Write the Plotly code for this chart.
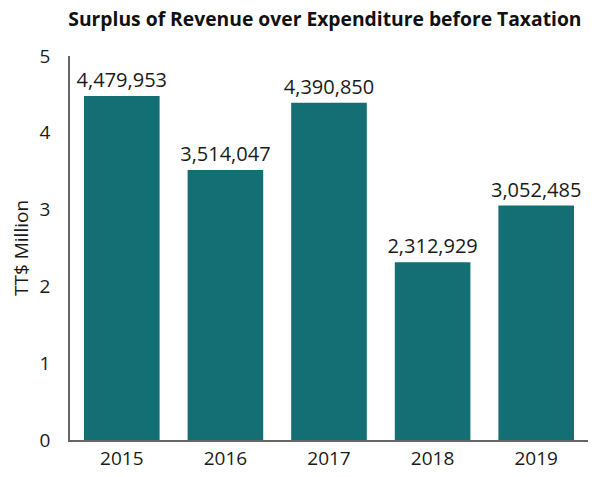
import plotly.graph_objects as go

years = ["2015", "2016", "2017", "2018", "2019"]
surplus_tt = [4479953, 3514047, 4390850, 2312929, 3052485]
y_ticks = [0, 1, 2, 3, 4, 5]

y_million = [v / 1e6 for v in surplus_tt]
labels = [f"{v:,}" for v in surplus_tt]

FONT = "Open Sans, Noto Sans, sans-serif"

fig = go.Figure(go.Bar(
    x=years, y=y_million, text=labels, textposition="outside",
    constraintext="none",
    textfont=dict(size=20, color="#1a1a1a", family=FONT),
    marker=dict(color="#136f73", line=dict(width=0)),
    cliponaxis=False, hoverinfo="skip",
))

fig.update_layout(
    width=588, height=469,
    margin=dict(l=62, r=8, t=48, b=37, autoexpand=False),
    paper_bgcolor="white", plot_bgcolor="white",
    bargap=0.27, showlegend=False,
    font=dict(family=FONT, color="#1a1a1a", size=19),
    title=dict(text="<b>Surplus of Revenue over Expenditure before Taxation</b>",
               x=0.539, xanchor="center", y=0.975, yanchor="middle",
               font=dict(size=19.3, color="#111111", family=FONT)),
)
fig.update_xaxes(showline=True, linecolor="#666666", linewidth=2,
                 showgrid=False, ticks="", tickfont=dict(size=19),
                 automargin=False)
fig.update_yaxes(range=[0, 5], tickvals=y_ticks, showline=True,
                 linecolor="#666666", linewidth=1.5, showgrid=False,
                 zeroline=False, ticks="", ticklabelstandoff=14,
                 tickfont=dict(size=19), automargin=False,
                 title=dict(text="TT$ Million", font=dict(size=19), standoff=8))

fig.write_html("out.html")
